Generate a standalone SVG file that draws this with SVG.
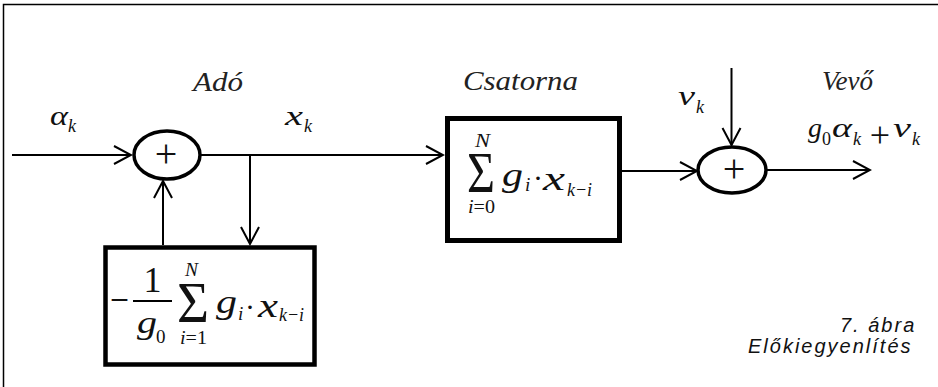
<svg xmlns="http://www.w3.org/2000/svg" width="938" height="387" viewBox="0 0 938 387">
<style>
.ln{stroke:#000;stroke-width:2;fill:none}
.blk{stroke:#000;fill:#fff}
.sum{stroke:#000;stroke-width:3.5;fill:#fff}
.m{font-family:"Liberation Serif","Times New Roman",serif;font-style:italic;fill:#111}
.u{font-family:"Liberation Serif","Times New Roman",serif;font-style:normal;fill:#111}
.ttl{font-family:"Liberation Serif","Times New Roman",serif;font-style:italic;font-size:28px;fill:#222}
.cap{font-family:"Liberation Sans",Arial,sans-serif;font-style:italic;font-size:20px;letter-spacing:2px;fill:#111}
</style>
<defs>
<marker id="arr" markerUnits="userSpaceOnUse" viewBox="-19 -11 21 22" refX="0" refY="0" markerWidth="21" markerHeight="22" orient="auto">
<path d="M-17,-9 L0,0 L-17,9" fill="none" stroke="#000" stroke-width="2"/>
</marker>
</defs>
<path d="M3.5,387 V4.5 H938" fill="none" stroke="#000" stroke-width="1.5"/>

<g id="connectors">
<path class="ln" d="M12,155 H131" marker-end="url(#arr)"/>
<path class="ln" d="M200,155 H443" marker-end="url(#arr)"/>
<path class="ln" d="M250,155 V244" marker-end="url(#arr)"/>
<path class="ln" d="M163,245 V181" marker-end="url(#arr)"/>
<path class="ln" d="M622,171 H697" marker-end="url(#arr)"/>
<path class="ln" d="M731.5,68 V145" marker-end="url(#arr)"/>
<path class="ln" d="M767,170 H870" marker-end="url(#arr)"/>
</g>

<g id="input-label">
<text class="m" x="50" y="125" font-size="28" textLength="18" lengthAdjust="spacingAndGlyphs">α</text>
<text class="m" x="68" y="132" font-size="18">k</text>
</g>

<g id="sum1">
<ellipse class="sum" cx="167" cy="155" rx="33" ry="24"/>
<text class="u" x="166" y="167" font-size="40" text-anchor="middle">+</text>
</g>

<g id="ado-label">
<text class="ttl" x="193" y="91" textLength="50" lengthAdjust="spacingAndGlyphs">Adó</text>
<text class="m" x="285" y="125" font-size="28" textLength="18" lengthAdjust="spacingAndGlyphs">x</text>
<text class="m" x="304" y="132" font-size="18">k</text>
</g>

<g id="feedback">
<rect class="blk" x="105.5" y="247.5" width="209" height="117" stroke-width="4.5"/>
<text class="u" x="110" y="313" font-size="40" textLength="19" lengthAdjust="spacingAndGlyphs">−</text>
<line x1="133" y1="301" x2="172" y2="301" stroke="#000" stroke-width="2"/>
<text class="u" x="152.5" y="292" font-size="36" text-anchor="middle">1</text>
<text class="m" x="137" y="333" font-size="32" textLength="20" lengthAdjust="spacingAndGlyphs">g</text>
<text class="u" x="156" y="343" font-size="19">0</text>
<text class="m" x="185" y="276" font-size="19" textLength="13" lengthAdjust="spacingAndGlyphs">N</text>
<text class="u" x="177" y="322" font-size="56" textLength="32" lengthAdjust="spacingAndGlyphs">Σ</text>
<text class="u" x="180" y="344" font-size="19" textLength="27" lengthAdjust="spacingAndGlyphs"><tspan font-style="italic">i</tspan>=1</text>
<text class="m" x="216" y="313" font-size="33" textLength="21" lengthAdjust="spacingAndGlyphs">g</text>
<text class="m" x="238" y="320" font-size="19">i</text>
<text class="u" x="250" y="317" font-size="30" text-anchor="middle">·</text>
<text class="m" x="258" y="317" font-size="33" textLength="20" lengthAdjust="spacingAndGlyphs">x</text>
<text class="m" x="279" y="321" font-size="19" textLength="25" lengthAdjust="spacingAndGlyphs">k−i</text>
</g>

<g id="csatorna">
<text class="ttl" x="463" y="90" textLength="115" lengthAdjust="spacingAndGlyphs">Csatorna</text>
<rect class="blk" x="447.5" y="118.5" width="172" height="122" stroke-width="5"/>
<text class="m" x="475" y="147" font-size="19" textLength="15" lengthAdjust="spacingAndGlyphs">N</text>
<text class="u" x="467" y="192" font-size="57" textLength="28" lengthAdjust="spacingAndGlyphs">Σ</text>
<text class="u" x="468" y="213" font-size="19" textLength="27" lengthAdjust="spacingAndGlyphs"><tspan font-style="italic">i</tspan>=0</text>
<text class="m" x="502" y="186" font-size="33" textLength="21" lengthAdjust="spacingAndGlyphs">g</text>
<text class="m" x="525" y="191" font-size="19">i</text>
<text class="u" x="538" y="188" font-size="30" text-anchor="middle">·</text>
<text class="m" x="543" y="190" font-size="33" textLength="22" lengthAdjust="spacingAndGlyphs">x</text>
<text class="m" x="567" y="196" font-size="19" textLength="25" lengthAdjust="spacingAndGlyphs">k−i</text>
</g>

<g id="noise-label">
<text class="m" x="678" y="105" font-size="28" textLength="17" lengthAdjust="spacingAndGlyphs">ν</text>
<text class="m" x="696" y="113" font-size="18">k</text>
</g>

<g id="sum2">
<ellipse class="sum" cx="732" cy="170" rx="34" ry="23"/>
<text class="u" x="734" y="182" font-size="40" text-anchor="middle">+</text>
</g>

<g id="vevo-label">
<text class="ttl" x="822" y="90" textLength="51" lengthAdjust="spacingAndGlyphs">Vevő</text>
<text class="m" x="808" y="137" font-size="28" textLength="14" lengthAdjust="spacingAndGlyphs">g</text>
<text class="u" x="822" y="145" font-size="18">0</text>
<text class="m" x="832" y="137" font-size="28" textLength="20" lengthAdjust="spacingAndGlyphs">α</text>
<text class="m" x="853" y="145" font-size="18">k</text>
<text class="u" x="880" y="147" font-size="36" text-anchor="middle">+</text>
<text class="m" x="893" y="137" font-size="28" textLength="18" lengthAdjust="spacingAndGlyphs">ν</text>
<text class="m" x="912" y="145" font-size="18">k</text>
</g>

<g id="caption">
<text class="cap" x="840" y="332">7. ábra</text>
<text class="cap" x="748" y="353">Előkiegyenlítés</text>
</g>
</svg>
